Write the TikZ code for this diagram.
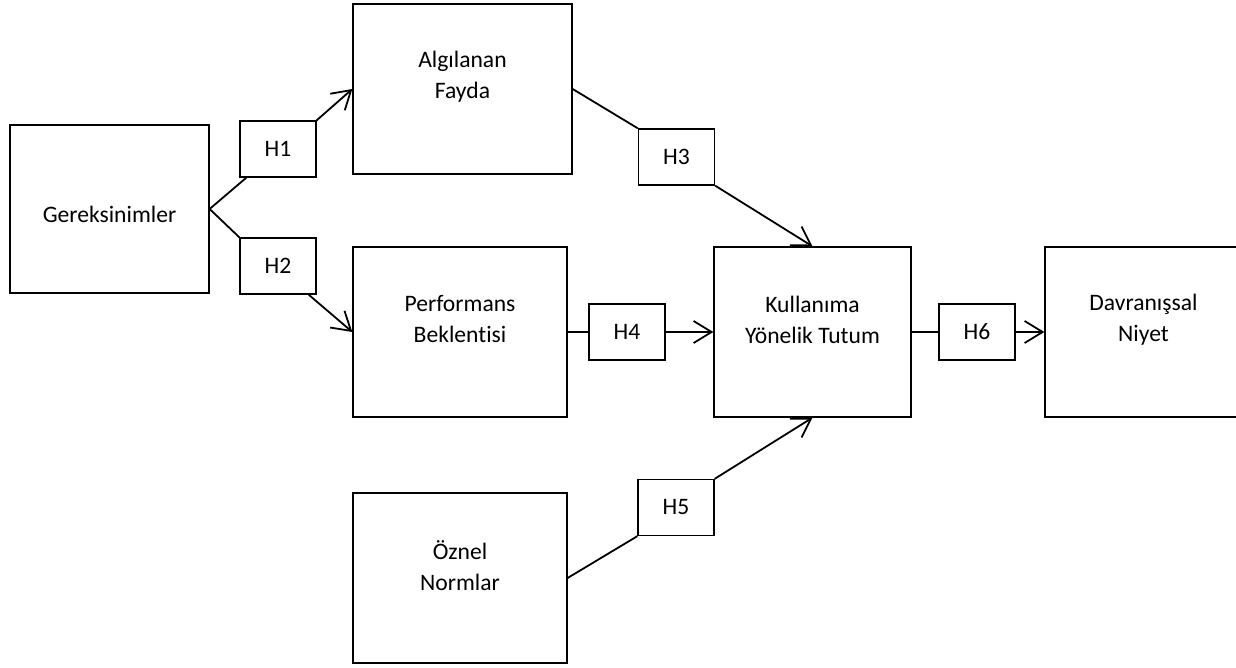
\documentclass[tikz,border=0pt]{standalone}
\usepackage{fontspec}
\setmainfont{Carlito}[Ligatures=NoCommon]
\usetikzlibrary{positioning}
\usetikzlibrary{arrows.meta}

\begin{document}
\begin{tikzpicture}[-{Straight Barb[length=9pt,width=11pt]}, x=0.5pt, y=-0.5pt,
  line width=0.9pt,
  box/.style ={ rectangle, draw, black, fill = white, line width = 0.65pt,
  minimum width = 107pt, minimum height = 85pt, inner sep = 0pt},
  hyp/.style ={ rectangle, draw, black, fill = white, text = black, line width = 0.65pt,
  minimum width = 38pt, minimum height = 28pt, font = \fontsize{11.8}{15.5}\selectfont},
  txt/.style ={ align = center, text = black, font = \fontsize{11.8}{15.5}\selectfont}]
  \useasboundingbox (0,0) rectangle (1236,668);
  % boxes
  \node[box, minimum width = 99.5pt, minimum height = 84pt] (G) at (109.5,209) {};
  \node[box, minimum width = 109.5pt] (AF) at (462.5,89) {};
  \node[box] (PB) at (460,332) {};
  \node[box] (ON) at (460,578) {};
  \node[box, minimum width = 98.5pt] (KT) at (812.5,332) {};
  \node[box, minimum width = 107.5pt] (DN) at (1152.5,332) {};
  % texts
  \node[txt, anchor = base] (Gt) at ([yshift=-6.85pt]G.center) {Gereksinimler};
  \node[txt] (AFt) at ([yshift=6.3pt]AF.center) {Algılanan\\Fayda};
  \node[txt] (PBt) at ([yshift=6.3pt]PB.center) {Performans\\Beklentisi};
  \node[txt] (ONt) at ([yshift=6.3pt]ON.center) {Öznel\\Normlar};
  \node[txt] (KTt) at ([yshift=6.3pt]KT.center) {Kullanıma\\Yönelik Tutum};
  \node[txt] (DNt) at ([xshift=-4.5pt,yshift=6.3pt]DN.center) {Davranışsal\\Niyet};
  % hypotheses
  \node[hyp] (H1) at (278,149) {H1};
  \node[hyp] (H2) at (278,266) {H2};
  \node[hyp] (H3) at (676.5,157) {H3};
  \node[hyp] (H4) at (627,332) {H4};
  \node[hyp] (H5) at (676,507.5) {H5};
  \node[hyp] (H6) at (977,332) {H6};
  % paths
  \path (G.east) edge [-] ([xshift=3.5pt]H1.south west);
  \path (H1.north east) edge (AF.west);
  \path (G.east) edge [-] (H2.north west);
  \path ([xshift=-4pt]H2.south east) edge (PB.west);
  \path (AF.east) edge [-] (H3.north west);
  \path (H3.south east) edge (KT.north);
  \path (PB.east) edge [-] (H4.west);
  \path (H4.east) edge (KT.west);
  \path (ON.east) edge [-] (H5.south west);
  \path (H5.north east) edge (KT.south);
  \path (KT.east) edge [-] (H6.west);
  \path (H6.east) edge (DN.west);
\end{tikzpicture}
\end{document}
